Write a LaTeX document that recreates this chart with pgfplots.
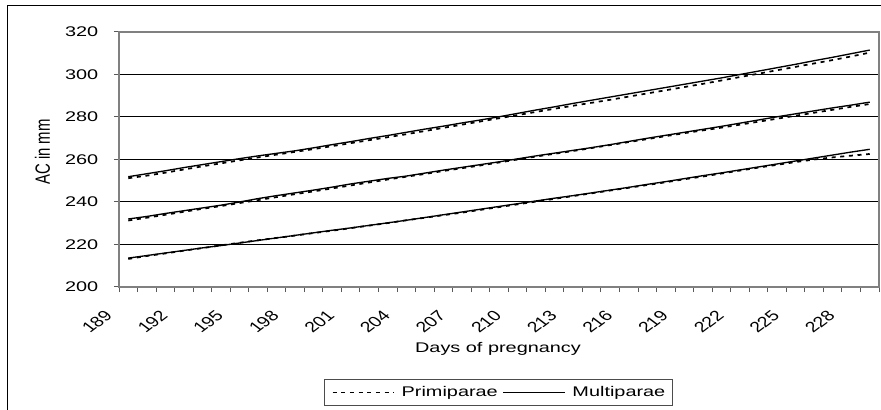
\documentclass[border=0pt]{standalone}
\usepackage{fontspec}
\setmainfont{Liberation Sans}
\usepackage{graphicx}
\usepackage{pgfplots}
\usepackage{pgfplotstable}
\pgfplotsset{compat=1.18}
\newcommand\xtl[1]{\scalebox{1.33}[1]{\rotatebox{45}{\fontsize{11}{12}\selectfont #1}}}
\newcommand\wide[1]{\scalebox{1.42}[1]{#1}}
\pgfplotstableread{
day TP TM MP MM BP BM
190 251.2 251.9 231.3 232.0 213.2 213.6
191 252.4 253.3 232.6 233.2 214.6 214.8
192 253.8 254.7 234.0 234.6 215.8 216.0
193 255.3 256.2 235.4 235.9 217.1 217.2
194 256.8 257.6 236.8 237.2 218.3 218.4
195 258.2 259.0 238.1 238.5 219.6 219.5
196 259.6 260.4 239.5 240.0 220.8 220.7
197 261.0 261.7 240.9 241.6 222.0 221.9
198 262.3 262.9 242.3 243.0 223.1 223.1
199 263.6 264.1 243.7 244.3 224.2 224.3
200 264.9 265.5 245.0 245.6 225.4 225.5
201 266.3 267.0 246.4 247.0 226.5 226.7
202 267.7 268.4 247.8 248.5 227.7 227.8
203 269.1 269.9 249.2 249.8 228.9 229.0
204 270.5 271.3 250.6 251.1 230.1 230.2
205 271.9 272.8 251.9 252.2 231.4 231.4
206 273.4 274.3 253.2 253.6 232.6 232.7
207 274.9 275.7 254.6 255.0 233.8 234.0
208 276.4 277.2 255.9 256.3 235.0 235.3
209 277.9 278.6 257.2 257.6 236.3 236.6
210 279.4 280.1 258.6 258.9 237.6 237.9
211 280.9 281.7 260.0 260.3 238.9 239.2
212 282.4 283.3 261.4 261.7 240.2 240.5
213 283.9 284.8 262.7 263.0 241.5 241.8
214 285.3 286.4 264.0 264.3 242.8 243.0
215 286.7 287.9 265.4 265.6 244.1 244.3
216 288.1 289.4 266.8 267.0 245.4 245.6
217 289.6 290.9 268.2 268.5 246.7 246.9
218 291.1 292.4 269.6 270.0 248.0 248.3
219 292.6 293.9 271.0 271.4 249.3 249.6
220 294.1 295.4 272.4 272.8 250.7 251.0
221 295.6 296.9 273.7 274.2 252.0 252.4
222 297.2 298.4 275.0 275.6 253.4 253.7
223 298.8 300.0 276.4 277.1 254.8 255.1
224 300.4 301.6 277.8 278.6 256.2 256.5
225 302.0 303.2 279.2 280.1 257.5 257.9
226 303.6 304.8 280.6 281.5 258.8 259.3
227 305.2 306.5 282.0 282.9 260.0 260.7
228 306.8 308.1 283.4 284.3 261.0 262.1
229 308.5 309.8 284.8 285.6 261.8 263.5
230 310.3 311.5 286.1 287.0 262.6 264.8
}\datatable
\begin{document}
\begin{tikzpicture}
\draw[line width=0.75pt] (5.5pt,-5pt) -- (5.5pt,303pt) -- (670pt,303pt);
\begin{axis}[
  at={(89.25pt,92.25pt)}, anchor=south west,
  scale only axis, width=570pt, height=191.25pt,
  xmin=189.5, xmax=230.5, ymin=200, ymax=320,
  ytick={200,220,...,320},
  ymajorgrids, grid style={black, line width=0.75pt},
  xtick={190,193,...,229},
  xticklabels={\xtl{189},\xtl{192},\xtl{195},\xtl{198},\xtl{201},\xtl{204},\xtl{207},\xtl{210},\xtl{213},\xtl{216},\xtl{219},\xtl{222},\xtl{225},\xtl{228}},
  minor xtick={189.5,190.5,...,230.5},
  major x tick style={draw=none},
  minor x tick style={black!65, line width=0.75pt},
  major y tick style={black!65, line width=0.75pt},
  tick align=outside, major tick length=3.75pt, minor tick length=3.75pt,
  xtick pos=bottom, ytick pos=left,
  axis line style={black!50, line width=1pt},
  /pgf/number format/assume math mode=true,
  yticklabel={\wide{\pgfmathprintnumber{\tick}}},
  yticklabel style={font=\fontsize{10.5}{12}\selectfont, anchor=east, inner sep=0pt, xshift=-11.6pt},
  xticklabel style={anchor=north east, inner sep=0pt, xshift=-11pt, yshift=-12.75pt},
  xlabel={\wide{Days of pregnancy}},
  xlabel style={font=\fontsize{10.5}{12}\selectfont, at={(axis description cs:0.4987,-0.2588)}, anchor=base},
  ylabel={\scalebox{0.72}[1]{AC in mm}},
  ylabel style={font=\fontsize{15.5}{18}\selectfont, at={(axis description cs:-0.091,0.53)}, anchor=base},
  legend columns=2,
  legend image code/.code={\draw[#1] (0pt,0pt) -- (46pt,0pt);},
  legend style={at={(axis description cs:0.4993,-0.4137)}, anchor=center,
    draw=black!70, line width=0.75pt, inner xsep=5.5pt, inner ysep=5.5pt,
    font=\fontsize{10.5}{12}\selectfont,
    nodes={inner sep=0pt},
    /tikz/every odd column/.append style={column sep=5.25pt},
    /tikz/every even column/.append style={column sep=3.75pt}},
]
\addplot[black, line width=1.3pt, dash pattern=on 3pt off 3.5pt] table[x=day, y=TP] {\datatable};
\addlegendentry{\wide{Primiparae}}
\addplot[black, line width=1pt] table[x=day, y=TM] {\datatable};
\addlegendentry{\wide{Multiparae}}
\addplot[black, line width=1.3pt, dash pattern=on 3pt off 3.5pt, forget plot] table[x=day, y=MP] {\datatable};
\addplot[black, line width=1pt, forget plot] table[x=day, y=MM] {\datatable};
\addplot[black, line width=1.3pt, dash pattern=on 3pt off 3.5pt, forget plot] table[x=day, y=BP] {\datatable};
\addplot[black, line width=1pt, forget plot] table[x=day, y=BM] {\datatable};
\end{axis}
\pgfresetboundingbox
\useasboundingbox (0,0) rectangle (660.75pt,307.5pt);
\end{tikzpicture}
\end{document}
